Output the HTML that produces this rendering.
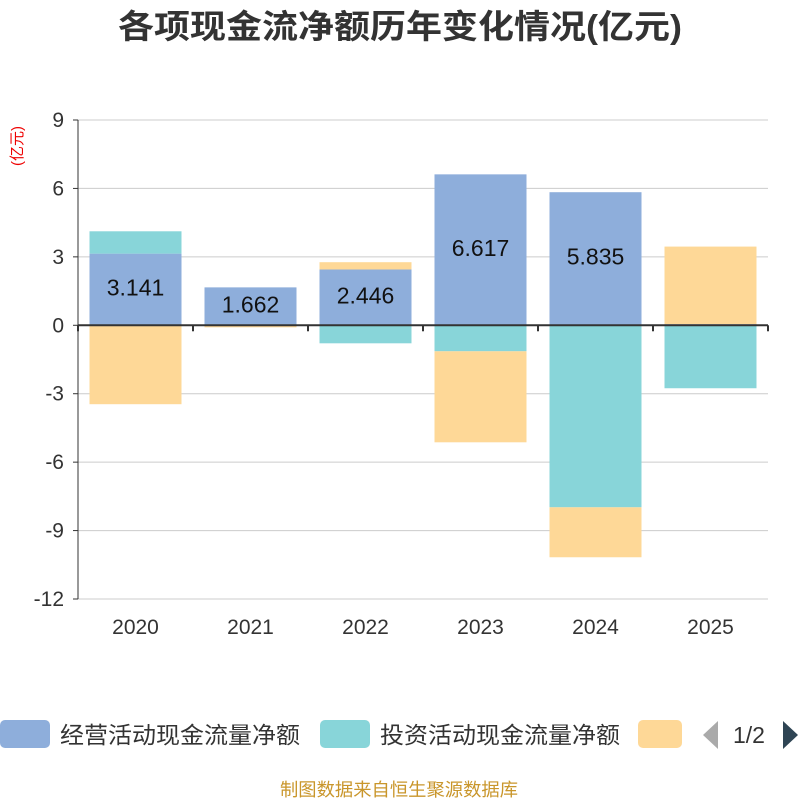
<!DOCTYPE html>
<html><head><meta charset="utf-8"><style>
body{margin:0;background:#fff;}
svg{display:block;font-family:"Liberation Sans","Noto Sans CJK SC",sans-serif;}
</style></head><body>
<svg id="c" width="800" height="800" viewBox="0 0 800 800">
<text x="118" y="38" textLength="564" lengthAdjust="spacingAndGlyphs" font-size="33" font-weight="bold" fill="#333">各项现金流净额历年变化情况(亿元)</text>
<text transform="translate(22,146) rotate(-90)" text-anchor="middle" font-size="15" fill="#e00">(亿元)</text>
<g id="grid"></g><g id="bars"></g><g id="axes"></g>
<g>
<rect x="0" y="720" width="50" height="28" rx="5" fill="#8eaedb"/>
<text x="60" y="743" textLength="240" lengthAdjust="spacingAndGlyphs" font-size="23" fill="#333">经营活动现金流量净额</text>
<rect x="320" y="720" width="50" height="28" rx="5" fill="#88d5d9"/>
<text x="380" y="743" textLength="240" lengthAdjust="spacingAndGlyphs" font-size="23" fill="#333">投资活动现金流量净额</text>
<rect x="638" y="720" width="44" height="28" rx="5" fill="#fed897"/>
<polygon points="718,721 703,735 718,749" fill="#aaa"/>
<text x="733" y="743" font-size="23" fill="#333">1/2</text>
<polygon points="783,721 798,735 783,749" fill="#2f4554"/>
</g>
<text x="280" y="796" textLength="238" lengthAdjust="spacingAndGlyphs" font-size="18" fill="#c9962b">制图数据来自恒生聚源数据库</text>
</svg>
<script>
const categories=["2020","2021","2022","2023","2024","2025"];
const operating=[3.141,1.662,2.446,6.617,5.835,0.05];
const investing=[0.98,-0.03,-0.79,-1.14,-7.98,-2.76];
const financing=[-3.46,-0.06,0.32,-3.99,-2.19,3.40];
const opLabels=["3.141","1.662","2.446","6.617","5.835",""];
const ticks=[9,6,3,0,-3,-6,-9,-12];
const NS="http://www.w3.org/2000/svg";
const L=78,R=768,T=120,B=599,yMax=9,yMin=-12;
const y=v=>T+(yMax-v)/(yMax-yMin)*(B-T);
const band=(R-L)/categories.length;
const x=i=>L+band*i;
function mk(tag,attrs,parent){const e=document.createElementNS(NS,tag);for(const k in attrs)e.setAttribute(k,attrs[k]);document.getElementById(parent).appendChild(e);return e;}
ticks.forEach(t=>{
 const l=mk('line',{x1:L,x2:R,y1:y(t),y2:y(t),stroke:'#ccc','stroke-width':1},'grid');
 
 
 const tx=mk('text',{x:L-14,y:y(t)+7,'text-anchor':'end','font-size':21,fill:'#333'},'axes');
 tx.textContent=t;
 
 
 const tk=mk('line',{x1:L-5,x2:L,y1:y(t),y2:y(t),stroke:'#333'},'axes');
 
 
});
const ya=mk('line',{x1:L,x2:L,y1:T,y2:B,stroke:'#333'},'axes');


const xa=mk('line',{x1:L,x2:R,y1:y(0),y2:y(0),stroke:'#333','stroke-width':2},'axes');


for(let i=0;i<=categories.length;i++){
 const tk=mk('line',{x1:x(i),x2:x(i),y1:y(0),y2:y(0)+6,stroke:'#333','stroke-width':2},'axes');
 
 
}
const series=[[operating,'#8eaedb','operating'],[investing,'#88d5d9','investing'],[financing,'#fed897','financing']];
categories.forEach((c,i)=>{
 let pos=0,neg=0;
 const bx=x(i)+band*0.1,bw=band*0.8;
 series.forEach(([arr,col,nm])=>{
  const v=arr[i];let a,b;
  if(v>=0){a=pos;b=pos+v;pos=b;}else{a=neg;b=neg+v;neg=b;}
  const r=mk('rect',{x:bx,y:Math.min(y(a),y(b)),width:bw,height:Math.max(Math.abs(y(a)-y(b)),0.8),fill:col},'bars');
  
  
 });
 if(opLabels[i]){
  const t=mk('text',{x:x(i)+band/2,y:y(operating[i]/2)+6,'text-anchor':'middle','font-size':23,fill:'#111'},'bars');
  t.textContent=opLabels[i];
  
  
 }
 const xl=mk('text',{x:x(i)+band/2,y:634,'text-anchor':'middle','font-size':21,fill:'#333'},'axes');
 xl.textContent=c;
 
 
});
</script>
</body></html>
